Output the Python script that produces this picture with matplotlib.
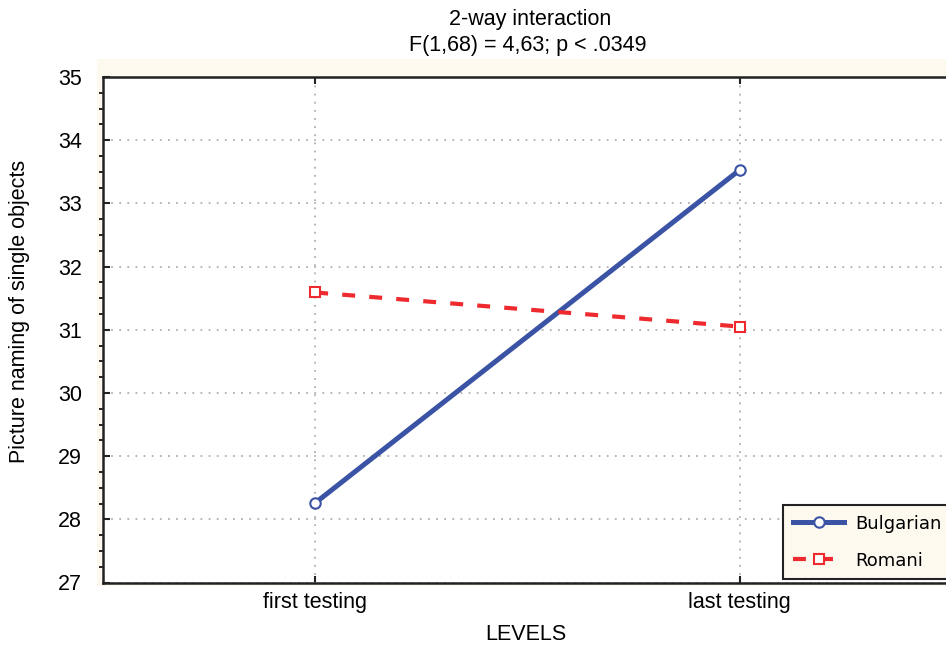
import numpy as np
import matplotlib.pyplot as plt
from matplotlib.patches import Rectangle
from matplotlib.ticker import MultipleLocator

# Mean scores per testing session
levels = ['first testing', 'last testing']
bulgarian = [28.26, 33.53]
romani = [31.59, 31.05]

plt.rcParams['font.family'] = ['Liberation Sans', 'DejaVu Sans']

fig = plt.figure(figsize=(9.46, 6.45), dpi=100)

# cream frame behind the plot area
fig.patches.append(Rectangle((97 / 946, 1 - 586 / 645), 1.0, (586 - 59) / 645,
                             transform=fig.transFigure, facecolor='#fdf9ef',
                             edgecolor='none', zorder=-5))

ax = fig.add_axes([103 / 946, 62.5 / 645, 849 / 946, 505.5 / 645])
ax.set_facecolor('white')

x = np.arange(len(levels))
ax.plot(x, bulgarian, color='#3a53a4', linewidth=3.6, marker='o', markersize=7.5,
        markerfacecolor='white', markeredgecolor='#3a53a4', markeredgewidth=1.5,
        label='Bulgarian', zorder=3)
ax.plot(x, romani, color='#ee2a2e', linewidth=3.0, linestyle=(0, (3.1, 3.4)),
        marker='s', markersize=7, markerfacecolor='white', markeredgecolor='#ee2a2e',
        markeredgewidth=1.5, label='Romani', zorder=3)

ax.set_xlim(-0.5, 1.5)
ax.set_ylim(27, 35)
ax.set_xticks(x)
ax.set_xticklabels(levels)
ax.yaxis.set_major_locator(MultipleLocator(1))
ax.yaxis.set_minor_locator(MultipleLocator(0.25))
ax.tick_params(axis='both', direction='in', labelsize=15.5, color='#222222')
ax.tick_params(axis='y', which='major', length=5, width=1.5, pad=15)
ax.tick_params(axis='y', which='minor', length=3, width=1.2)
ax.tick_params(axis='x', length=5, width=1.5, top=True, pad=7)

ax.grid(True, color='#b0b0b0', linestyle=(0, (1, 3.5)), linewidth=1.3)
for s in ax.spines.values():
    s.set_linewidth(1.8)
    s.set_color('#222222')

fig.text(530 / 946, 1 - 20 / 645, '2-way interaction', fontsize=15.5,
         ha='center', va='center')
fig.text(528 / 946, 1 - 46 / 645, 'F(1,68) = 4,63; p < .0349', fontsize=15.5,
         ha='center', va='center')
fig.text(526 / 946, 1 - 634 / 645, 'LEVELS', fontsize=15.5, ha='center', va='center')
fig.text(20 / 946, 1 - 311 / 645, 'Picture naming of single objects', rotation=90,
         fontsize=15.5, ha='center', va='center')

leg = ax.legend(loc='lower right', bbox_to_anchor=(1.0, 0.006), borderaxespad=0,
                prop={'family': 'DejaVu Sans', 'size': 13}, handlelength=2.8,
                fancybox=False, edgecolor='#222222', facecolor='#fdf9ef',
                framealpha=1, borderpad=0.55, labelspacing=1.05, handletextpad=0.65)
leg.get_frame().set_linewidth(1.5)

fig.savefig('out.png', dpi=100)
